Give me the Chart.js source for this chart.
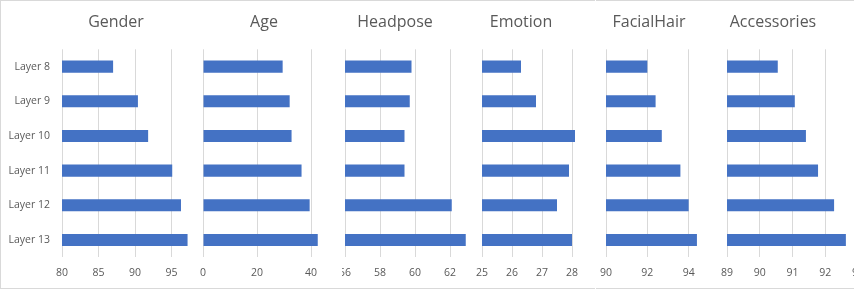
<!DOCTYPE html>
<html>
<head>
<meta charset="utf-8">
<script src="https://cdn.jsdelivr.net/npm/chart.js@4.4.1/dist/chart.umd.min.js"></script>
<style>
  body { margin: 0; background: #fff; width: 861px; height: 289px; overflow: hidden; position: relative; }
  .panel { position: absolute; top: 0; height: 289px; overflow: hidden; }
  .panel canvas { position: absolute; top: 0; }
  .frame { position: absolute; top: 0; height: 289px; box-sizing: border-box; z-index: 10;
           border-top: 1px solid #d9d9d9; border-bottom: 1px solid #d9d9d9; pointer-events: none; }
</style>
</head>
<body>
<div class="frame" style="left:0;width:595px;border-left:1px solid #d9d9d9"></div>
<div class="frame" style="left:596px;width:258px"></div>
<script>
// data
const layers = ['Layer 8', 'Layer 9', 'Layer 10', 'Layer 11', 'Layer 12', 'Layer 13'];
const gender = [87.0, 90.4, 91.8, 95.1, 96.3, 97.2];
const age = [29.5, 32.1, 32.8, 36.5, 39.5, 42.5];
const headpose = [59.8, 59.7, 59.4, 59.4, 62.1, 62.9];
const emotion = [26.3, 26.8, 28.1, 27.9, 27.5, 28.0];
const facialHair = [92.0, 92.4, 92.7, 93.6, 94.0, 94.4];
const accessories = [90.55, 91.07, 91.41, 91.78, 92.27, 92.63];

// axis ranges (min, max, step) per panel
const genderAxis = [80, 100, 5];
const ageAxis = [0, 60, 20];
const headposeAxis = [56, 64, 2];
const emotionAxis = [25, 29, 1];
const facialHairAxis = [90, 96, 2];
const accessoriesAxis = [89, 93, 1];

// page layout in px: visible strip, plot extent, title centre
// (the charts overlap like in the original sheet, so each one is cut to its strip)
const panels = [
    { title: 'Gender', data: gender, axis: genderAxis, visL: 0, visR: 196, plotL: 62, plotR: 208, mid: 116, showY: true },
    { title: 'Age', data: age, axis: ageAxis, visL: 196, visR: 342, plotL: 203, plotR: 365, mid: 264 },
    { title: 'Headpose', data: headpose, axis: headposeAxis, visL: 342, visR: 472, plotL: 345, plotR: 485, mid: 395 },
    { title: 'Emotion', data: emotion, axis: emotionAxis, visL: 472, visR: 595, plotL: 482, plotR: 602, mid: 521 },
    { title: 'FacialHair', data: facialHair, axis: facialHairAxis, visL: 596, visR: 716, plotL: 606, plotR: 730, mid: 649 },
    { title: 'Accessories', data: accessories, axis: accessoriesAxis, visL: 716, visR: 854, plotL: 727, plotR: 858, mid: 773 }
];

Chart.defaults.font.family = "'Open Sans', sans-serif";
Chart.defaults.color = '#595959';

panels.forEach(p => {
    // title is centred on the box between the layout paddings,
    // so widen the box with empty side axes until its centre sits at p.mid
    const boxL = Math.min(2 * p.mid - p.plotR, p.visL);
    const boxR = 2 * p.mid - boxL;
    const leftW = p.plotL - boxL;
    const rightW = boxR - p.plotR;
    const canL = boxL;
    const canR = boxR + 4;

    const wrap = document.createElement('div');
    wrap.className = 'panel';
    wrap.style.left = p.visL + 'px';
    wrap.style.width = (p.visR - p.visL) + 'px';
    const canvas = document.createElement('canvas');
    canvas.width = canR - canL;
    canvas.height = 289;
    canvas.style.left = (canL - p.visL) + 'px';
    wrap.appendChild(canvas);
    document.body.appendChild(wrap);

    new Chart(canvas.getContext('2d'), {
        type: 'bar',
        data: {
            labels: layers,
            datasets: [{
                data: p.data,
                backgroundColor: '#4472C4',
                barPercentage: 0.35,
                categoryPercentage: 1
            }]
        },
        options: {
            indexAxis: 'y',
            responsive: false,
            animation: false,
            layout: {
                padding: { left: 0, right: canR - boxR, top: 0, bottom: 0 }
            },
            plugins: {
                legend: { display: false },
                tooltip: { enabled: false },
                title: {
                    display: true,
                    text: p.title,
                    color: '#595959',
                    font: { size: 16, weight: 'normal' },
                    padding: { top: 12.4, bottom: 17.7 }
                }
            },
            scales: {
                x: {
                    min: p.axis[0],
                    max: p.axis[1],
                    ticks: { stepSize: p.axis[2], padding: 9, font: { size: 10.5 }, color: '#595959', maxRotation: 0 },
                    grid: { color: '#d9d9d9', drawTicks: false },
                    border: { display: false },
                    afterFit: s => { s.height = 31.7; s.paddingLeft = 0; s.paddingRight = 0; }
                },
                y: {
                    ticks: { display: !!p.showY, padding: 12, font: { size: 10.5 }, color: '#595959' },
                    grid: { display: false, drawTicks: false },
                    border: { display: false },
                    afterFit: s => { s.width = leftW; }
                },
                yRight: {
                    type: 'category',
                    axis: 'y',
                    position: 'right',
                    display: rightW > 0,
                    ticks: { display: false },
                    grid: { display: false, drawTicks: false },
                    border: { display: false },
                    afterFit: s => { s.width = rightW; }
                }
            }
        }
    });
});
</script>
</body>
</html>
